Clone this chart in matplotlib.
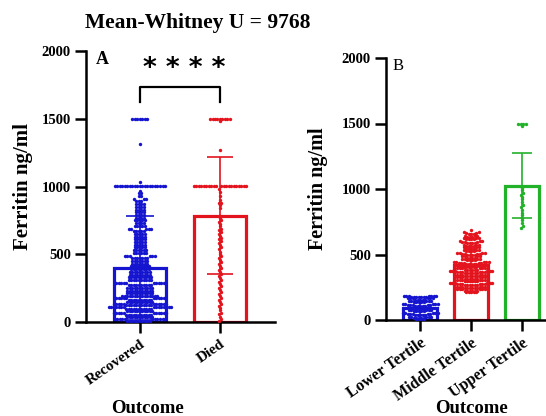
import numpy as np
import matplotlib
matplotlib.use("Agg")
import matplotlib.pyplot as plt

plt.rcParams['font.family'] = ['Liberation Serif', 'DejaVu Serif']
plt.rcParams['font.weight'] = 'bold'

# ---------------- data ----------------
title = "Mean-Whitney U = 9768"
a_categories = ["Recovered", "Died"]
a_means = [400, 785]
a_sds = [383, 430]

# Recovered: value levels and number of points at each level
rec_levels = [1500, 1310, 1030, 1000, 970, 950, 930, 910, 890, 870, 850, 830, 810,
              790, 770, 750, 730, 710, 690, 670, 650, 630, 610, 590, 570, 550, 530,
              510, 490, 470, 450, 430, 410, 390, 370, 350, 330, 310, 290, 270, 250,
              230, 212, 195, 180, 165, 150, 135, 122, 108, 95, 80, 65, 50, 35, 20, 8]
rec_counts = [7, 1, 1, 21, 1, 2, 2, 3, 3, 4, 4, 4, 4,
              4, 4, 5, 4, 5, 5, 5, 5, 5, 5, 5, 5, 5, 6,
              6, 6, 7, 7, 7, 8, 8, 9, 9, 10, 10, 10, 10, 11,
              11, 11, 15, 10, 10, 11, 11, 11, 15, 11, 11, 11, 11, 11, 11, 10]

died_levels = [1500, 1480, 1270, 1000, 980, 960, 930, 900, 880, 860, 840,
               780, 765, 750, 735, 720, 705, 690, 678, 665, 650, 638, 622, 610, 595,
               580, 565, 550, 536, 520, 505, 490, 476, 460, 445, 430, 415, 400, 386,
               370, 355, 340, 325, 310, 296, 280, 265, 250, 236, 220, 205, 190, 176,
               160, 145, 130, 116, 100, 85, 70, 56, 40, 25, 10]
died_counts = [9, 1, 1, 21, 1, 1, 1, 1, 2, 1, 1] + [1] * 53

b_categories = ["Lower Tertile", "Middle Tertile", "Upper Tertile"]
b_means = [93, 420, 1025]
b_sds = [55, 130, 248]

low_levels = [185, 175, 165, 155, 145, 135, 125, 115, 105, 95, 85, 75, 65, 55, 45, 35, 25, 15, 5]
low_counts = [7, 7, 6, 5, 5, 5, 5, 5, 5, 5, 5, 5, 5, 5, 5, 5, 5, 5, 4]

mid_levels = [685, 675, 665, 655, 645, 635, 625, 615, 605, 595, 585, 575, 565, 555, 545,
              535, 525, 515, 505, 495, 485, 475, 465, 455, 445, 435, 425, 415, 405, 395,
              385, 375, 365, 355, 345, 335, 325, 315, 305, 295, 285, 275, 265, 255, 245,
              235, 225, 215]
mid_counts = [1, 2, 2, 3, 3, 3, 3, 4, 3, 3, 4, 3, 4, 3, 4,
              3, 4, 4, 4, 4, 4, 4, 4, 4, 5, 5, 5, 5, 6, 6,
              6, 6, 6, 6, 6, 6, 6, 6, 6, 6, 6, 6, 6, 6, 6,
              6, 6, 5]

up_levels = [1500, 1480, 1010, 990, 970, 955, 940, 920, 900, 880, 860, 840, 820, 800, 780, 760, 740, 720, 700]
up_counts = [4, 1] + [1] * 17

blue = '#1515d0'
red = '#e3141e'
green = '#22b22a'

# ---------------- figure ----------------
W, H = 546, 416
fig = plt.figure(figsize=(W / 100, H / 100), dpi=100)
axA = fig.add_axes([86 / W, 1 - 322 / H, (275 - 86) / W, (322 - 51) / H])
axB = fig.add_axes([386 / W, 1 - 320 / H, (546 - 386) / W, (320 - 58) / H])


def swarm_positions(ax, xc, vals, row_h=3.0, step=2.5):
    """Bin values into rows (display px) and spread each row sideways."""
    tr = ax.transData
    inv = tr.inverted()
    disp = np.array([tr.transform((xc, v)) for v in vals])
    rows = np.round(disp[:, 1] / row_h).astype(int)
    out = np.empty_like(disp)
    for r in np.unique(rows):
        idx = np.where(rows == r)[0]
        idx = idx[np.argsort(disp[idx, 1])]
        n = len(idx)
        offs = (np.arange(n) - (n - 1) / 2.0) * step
        order = np.argsort(np.abs(offs), kind='stable')
        for j, k in enumerate(idx):
            out[k, 0] = disp[k, 0] + offs[order[j]]
            out[k, 1] = disp[k, 1]
    return inv.transform(out)


def style_axis(ax, xlim, cats, rot_fs):
    ax.set_ylim(0, 2000)
    ax.set_xlim(*xlim)
    ax.set_yticks([0, 500, 1000, 1500, 2000])
    ax.set_xticks(range(len(cats)))
    ax.set_xticklabels(cats, rotation=35, ha='right', rotation_mode='anchor',
                       fontsize=rot_fs, fontweight='bold')
    for lab in ax.get_yticklabels():
        lab.set_fontsize(10.5)
        lab.set_fontweight('bold')
    ax.spines['top'].set_visible(False)
    ax.spines['right'].set_visible(False)
    ax.spines['left'].set_linewidth(1.8)
    ax.spines['bottom'].set_linewidth(1.8)
    ax.tick_params(axis='both', length=8, width=1.8, direction='out', pad=3)
    ax.set_facecolor('none')


# Panel A
style_axis(axA, (-0.675, 1.6875), a_categories, 11)
colsA = [blue, red]
groupsA = [(rec_levels, rec_counts), (died_levels, died_counts)]
capsA = [10, 9.5]
for i in range(2):
    axA.bar(i, a_means[i], width=0.66, fill=False, edgecolor=colsA[i], linewidth=2.3, zorder=2)
    vals = np.repeat(groupsA[i][0], groupsA[i][1])
    pts = swarm_positions(axA, i, vals)
    axA.scatter(pts[:, 0], pts[:, 1], s=6, color=colsA[i], linewidths=0, zorder=3)
    axA.errorbar(i, a_means[i], yerr=a_sds[i], fmt='none', ecolor=colsA[i],
                 elinewidth=1.2, capsize=capsA[i], capthick=1.2, zorder=4)

# significance bracket
axA.plot([0, 0, 1, 1], [1625, 1735, 1735, 1625], color='black', lw=1.6, clip_on=False)
axA.text(0.55, 1870, "* * * *", ha='center', va='center', fontsize=19,
         fontweight='bold', family='DejaVu Sans')
axA.text(0.05, 1.0, "A", transform=axA.transAxes, ha='left', va='top',
         fontsize=13, fontweight='bold')
axA.set_ylabel("Ferritin ng/ml", fontsize=15, fontweight='bold', labelpad=6)

# Panel B
style_axis(axB, (-0.667, 2.47), b_categories, 11.5)
colsB = [blue, red, green]
groupsB = [(low_levels, low_counts), (mid_levels, mid_counts), (up_levels, up_counts)]
capsB = [5, 5, 7]
for i in range(3):
    axB.bar(i, b_means[i], width=0.67, fill=False, edgecolor=colsB[i], linewidth=2.3, zorder=2)
    vals = np.repeat(groupsB[i][0], groupsB[i][1])
    pts = swarm_positions(axB, i, vals)
    axB.scatter(pts[:, 0], pts[:, 1], s=6, color=colsB[i], linewidths=0, zorder=3)
    axB.errorbar(i, b_means[i], yerr=b_sds[i], fmt='none', ecolor=colsB[i],
                 elinewidth=1.2, capsize=capsB[i], capthick=1.2, zorder=4)
axB.text(0.04, 1.0, "B", transform=axB.transAxes, ha='left', va='top',
         fontsize=12, fontweight='normal')
axB.set_ylabel("Ferritin ng/ml", fontsize=14.5, fontweight='bold', labelpad=10)

# x labels and title
fig.text(148 / W, 3 / H, "Outcome", ha='center', va='baseline', fontsize=13.5, fontweight='bold')
fig.text(471 / W, 3 / H, "Outcome", ha='center', va='baseline', fontsize=13.5, fontweight='bold')
fig.text(198 / W, 1 - 28 / H, title, ha='center', va='baseline', fontsize=15.5, fontweight='bold')

fig.savefig("out.png", dpi=100)
